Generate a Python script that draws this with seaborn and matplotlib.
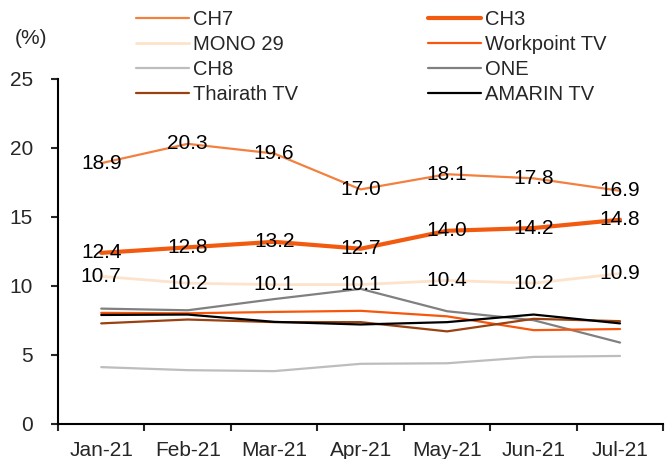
import matplotlib
matplotlib.use("Agg")
import matplotlib.pyplot as plt
import seaborn as sns
import pandas as pd
import numpy as np

months = ["Jan-21", "Feb-21", "Mar-21", "Apr-21", "May-21", "Jun-21", "Jul-21"]
ch7 = [18.9, 20.3, 19.6, 17.0, 18.1, 17.8, 16.9]
ch3 = [12.4, 12.8, 13.2, 12.7, 14.0, 14.2, 14.8]
mono29 = [10.7, 10.2, 10.1, 10.1, 10.4, 10.2, 10.9]
workpoint = [8.05, 8.02, 8.12, 8.2, 7.8, 6.8, 6.88]
ch8 = [4.12, 3.9, 3.83, 4.36, 4.4, 4.86, 4.93]
one = [8.36, 8.24, 9.05, 9.79, 8.17, 7.52, 5.9]
thairath = [7.29, 7.57, 7.38, 7.38, 6.71, 7.62, 7.45]
amarin = [7.9, 7.93, 7.4, 7.21, 7.38, 7.93, 7.29]

series = [
    ("CH7", ch7, "#F4803F", 1.6, True),
    ("MONO 29", mono29, "#FDE3CB", 2.0, True),
    ("CH8", ch8, "#BDBDBD", 1.6, False),
    ("Thairath TV", thairath, "#9A4112", 1.6, False),
    ("CH3", ch3, "#F25A10", 3.0, True),
    ("Workpoint TV", workpoint, "#F7560C", 1.6, False),
    ("ONE", one, "#808080", 1.6, False),
    ("AMARIN TV", amarin, "#000000", 1.6, False),
]

sns.set_style("white")
plt.rcParams['font.family'] = ['Liberation Sans', 'DejaVu Sans']

fig = plt.figure(figsize=(6.72, 4.59), dpi=100)
ax = fig.add_axes([0.0863, 0.0763, 0.9007, 0.7516])

x = np.arange(len(months))
draw_order = ["CH8", "MONO 29", "ONE", "Workpoint TV", "Thairath TV", "AMARIN TV", "CH7", "CH3"]
lines = {}
for name in draw_order:
    for n, vals, col, lw, lab in series:
        if n == name:
            df = pd.DataFrame({"x": x, "y": vals})
            sns.lineplot(data=df, x="x", y="y", ax=ax, color=col, linewidth=lw, label=n, legend=False)
            lines[n] = ax.get_lines()[-1]

for n, vals, col, lw, lab in series:
    if lab:
        for xi, v in zip(x, vals):
            ax.text(xi, v, f"{v:.1f}", ha="center", va="center", fontsize=15,
                    color="black", zorder=10, clip_on=False)

legend_kw = dict(loc="upper left", frameon=False, fontsize=14.5, handlelength=2.63,
                 handletextpad=0.2, labelspacing=0.3, borderpad=0, borderaxespad=0)
col1 = series[:4]
col2 = series[4:]
leg1 = fig.legend([lines[s[0]] for s in col1], [s[0] for s in col1],
                  bbox_to_anchor=(136 / 672, 1 - 10 / 459), **legend_kw)
leg2 = fig.legend([lines[s[0]] for s in col2], [s[0] for s in col2],
                  bbox_to_anchor=(428 / 672, 1 - 10 / 459), **legend_kw)

ax.set_xlim(-0.5, 6.5)
ax.set_ylim(0, 25)
ax.set_yticks([0, 5, 10, 15, 20, 25])
ax.set_xticks(np.arange(-0.5, 7.0, 1.0))
ax.set_xticklabels([])
ax.set_xticks(x, minor=True)
ax.set_xticklabels(months, minor=True)
ax.tick_params(axis="x", which="minor", length=0, labelsize=15, pad=12)
ax.tick_params(axis="x", which="major", length=5, width=1.5, direction="out", bottom=True)
ax.tick_params(axis="y", length=5, width=1.5, direction="out", left=True, labelsize=15, pad=13)
ax.set_xlabel("")
ax.set_ylabel("")
for s in ["top", "right"]:
    ax.spines[s].set_visible(False)
for s in ["left", "bottom"]:
    ax.spines[s].set_linewidth(1.5)
    ax.spines[s].set_color("black")

fig.text(15 / 672, 1 - 38 / 459, "(%)", fontsize=15, ha="left", va="center")

fig.savefig("out.png", dpi=100)
